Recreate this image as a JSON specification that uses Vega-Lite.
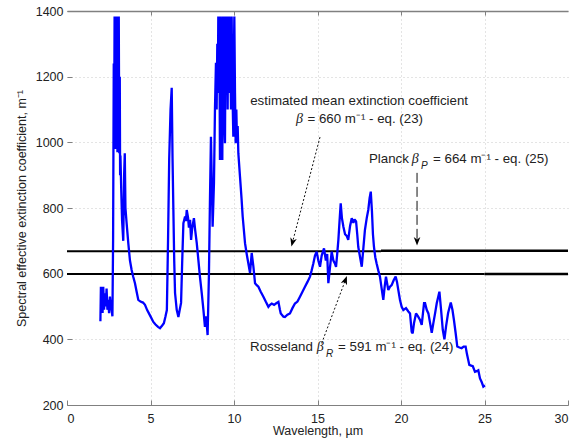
{
  "$schema": "https://vega.github.io/schema/vega-lite/v6.json",
  "autosize": "none",
  "width": 501,
  "height": 394,
  "padding": {"left": 67, "top": 11, "right": 10, "bottom": 38},
  "background": "white",
  "config": {
    "view": {"stroke": null},
    "font": "Liberation Sans",
    "axis": {"labelFont": "Liberation Sans", "titleFont": "Liberation Sans", "labelFontSize": 12.5, "titleFontSize": 12.5, "titleFontWeight": "normal", "labelColor": "#222", "titleColor": "#222", "domainColor": "#808080", "tickColor": "#808080", "gridColor": "#c8c8c8", "gridDash": [1, 3]}
  },
  "datasets": {
    "spectrum": [
      {"w": 2.0, "k": 455}, {"w": 2.03, "k": 560}, {"w": 2.07, "k": 500}, {"w": 2.1, "k": 545}, {"w": 2.13, "k": 480}, {"w": 2.17, "k": 560}, {"w": 2.22, "k": 490}, {"w": 2.27, "k": 540}, {"w": 2.32, "k": 500}, {"w": 2.37, "k": 555}, {"w": 2.42, "k": 490}, {"w": 2.47, "k": 520}, {"w": 2.52, "k": 480}, {"w": 2.57, "k": 530}, {"w": 2.62, "k": 500}, {"w": 2.67, "k": 490}, {"w": 2.72, "k": 470}, {"w": 2.76, "k": 700}, {"w": 2.8, "k": 1240}, {"w": 2.82, "k": 1000}, {"w": 2.85, "k": 1383}, {"w": 2.87, "k": 1050}, {"w": 2.9, "k": 1383}, {"w": 2.92, "k": 980}, {"w": 2.95, "k": 1383}, {"w": 2.97, "k": 1100}, {"w": 3.0, "k": 1383}, {"w": 3.02, "k": 970}, {"w": 3.05, "k": 1383}, {"w": 3.08, "k": 1000}, {"w": 3.1, "k": 1383}, {"w": 3.13, "k": 967}, {"w": 3.16, "k": 1200}, {"w": 3.18, "k": 900}, {"w": 3.2, "k": 960}, {"w": 3.25, "k": 850}, {"w": 3.3, "k": 760}, {"w": 3.37, "k": 700}, {"w": 3.42, "k": 900}, {"w": 3.46, "k": 967}, {"w": 3.5, "k": 800}, {"w": 3.57, "k": 754}, {"w": 3.67, "k": 693}, {"w": 3.77, "k": 640}, {"w": 3.87, "k": 611}, {"w": 3.97, "k": 590}, {"w": 4.07, "k": 571}, {"w": 4.17, "k": 545}, {"w": 4.27, "k": 520}, {"w": 4.4, "k": 515}, {"w": 4.55, "k": 512}, {"w": 4.67, "k": 505}, {"w": 4.8, "k": 489}, {"w": 5.0, "k": 470}, {"w": 5.17, "k": 453}, {"w": 5.3, "k": 445}, {"w": 5.45, "k": 438}, {"w": 5.57, "k": 434}, {"w": 5.7, "k": 442}, {"w": 5.8, "k": 449}, {"w": 5.9, "k": 470}, {"w": 5.98, "k": 489}, {"w": 6.05, "k": 700}, {"w": 6.12, "k": 950}, {"w": 6.2, "k": 1100}, {"w": 6.27, "k": 1166}, {"w": 6.32, "k": 950}, {"w": 6.37, "k": 794}, {"w": 6.42, "k": 640}, {"w": 6.47, "k": 541}, {"w": 6.57, "k": 490}, {"w": 6.67, "k": 468}, {"w": 6.75, "k": 490}, {"w": 6.83, "k": 511}, {"w": 6.9, "k": 640}, {"w": 6.97, "k": 754}, {"w": 7.07, "k": 774}, {"w": 7.12, "k": 760}, {"w": 7.17, "k": 794}, {"w": 7.25, "k": 770}, {"w": 7.3, "k": 740}, {"w": 7.37, "k": 764}, {"w": 7.43, "k": 703}, {"w": 7.5, "k": 740}, {"w": 7.6, "k": 769}, {"w": 7.68, "k": 730}, {"w": 7.77, "k": 693}, {"w": 7.87, "k": 640}, {"w": 7.96, "k": 591}, {"w": 8.07, "k": 540}, {"w": 8.17, "k": 489}, {"w": 8.26, "k": 438}, {"w": 8.33, "k": 470}, {"w": 8.42, "k": 413}, {"w": 8.5, "k": 600}, {"w": 8.56, "k": 824}, {"w": 8.62, "k": 1017}, {"w": 8.67, "k": 880}, {"w": 8.72, "k": 743}, {"w": 8.8, "k": 876}, {"w": 8.86, "k": 1100}, {"w": 8.92, "k": 1242}, {"w": 8.96, "k": 1100}, {"w": 9.0, "k": 1300}, {"w": 9.03, "k": 1150}, {"w": 9.06, "k": 1383}, {"w": 9.09, "k": 1150}, {"w": 9.12, "k": 1383}, {"w": 9.16, "k": 946}, {"w": 9.2, "k": 1383}, {"w": 9.23, "k": 1050}, {"w": 9.26, "k": 1300}, {"w": 9.3, "k": 946}, {"w": 9.34, "k": 1383}, {"w": 9.37, "k": 1100}, {"w": 9.4, "k": 1383}, {"w": 9.43, "k": 1050}, {"w": 9.46, "k": 997}, {"w": 9.49, "k": 1300}, {"w": 9.52, "k": 1383}, {"w": 9.55, "k": 1150}, {"w": 9.58, "k": 1383}, {"w": 9.62, "k": 1100}, {"w": 9.65, "k": 1383}, {"w": 9.68, "k": 1200}, {"w": 9.72, "k": 1383}, {"w": 9.75, "k": 1150}, {"w": 9.78, "k": 1300}, {"w": 9.82, "k": 1100}, {"w": 9.86, "k": 1383}, {"w": 9.89, "k": 1200}, {"w": 9.91, "k": 1150}, {"w": 9.96, "k": 1017}, {"w": 9.99, "k": 1250}, {"w": 10.02, "k": 1383}, {"w": 10.06, "k": 1150}, {"w": 10.1, "k": 997}, {"w": 10.14, "k": 1100}, {"w": 10.18, "k": 1000}, {"w": 10.22, "k": 1050}, {"w": 10.26, "k": 967}, {"w": 10.36, "k": 895}, {"w": 10.45, "k": 830}, {"w": 10.52, "k": 774}, {"w": 10.66, "k": 693}, {"w": 10.76, "k": 660}, {"w": 10.86, "k": 631}, {"w": 10.96, "k": 602}, {"w": 11.06, "k": 663}, {"w": 11.16, "k": 622}, {"w": 11.26, "k": 571}, {"w": 11.36, "k": 565}, {"w": 11.46, "k": 560}, {"w": 11.6, "k": 545}, {"w": 11.76, "k": 530}, {"w": 11.9, "k": 515}, {"w": 12.06, "k": 499}, {"w": 12.16, "k": 505}, {"w": 12.26, "k": 509}, {"w": 12.4, "k": 505}, {"w": 12.51, "k": 509}, {"w": 12.66, "k": 514}, {"w": 12.75, "k": 490}, {"w": 12.8, "k": 479}, {"w": 12.96, "k": 469}, {"w": 13.05, "k": 468}, {"w": 13.2, "k": 475}, {"w": 13.35, "k": 479}, {"w": 13.5, "k": 495}, {"w": 13.65, "k": 509}, {"w": 13.8, "k": 515}, {"w": 13.95, "k": 530}, {"w": 14.1, "k": 545}, {"w": 14.25, "k": 560}, {"w": 14.4, "k": 575}, {"w": 14.55, "k": 591}, {"w": 14.65, "k": 610}, {"w": 14.75, "k": 631}, {"w": 14.85, "k": 655}, {"w": 14.95, "k": 667}, {"w": 15.05, "k": 640}, {"w": 15.15, "k": 621}, {"w": 15.25, "k": 655}, {"w": 15.39, "k": 677}, {"w": 15.5, "k": 640}, {"w": 15.58, "k": 660}, {"w": 15.65, "k": 571}, {"w": 15.75, "k": 620}, {"w": 15.85, "k": 667}, {"w": 15.95, "k": 640}, {"w": 16.05, "k": 630}, {"w": 16.11, "k": 621}, {"w": 16.18, "k": 660}, {"w": 16.25, "k": 703}, {"w": 16.32, "k": 760}, {"w": 16.39, "k": 814}, {"w": 16.46, "k": 770}, {"w": 16.55, "k": 743}, {"w": 16.65, "k": 720}, {"w": 16.75, "k": 715}, {"w": 16.84, "k": 703}, {"w": 16.95, "k": 745}, {"w": 17.05, "k": 769}, {"w": 17.15, "k": 755}, {"w": 17.22, "k": 765}, {"w": 17.31, "k": 759}, {"w": 17.38, "k": 720}, {"w": 17.44, "k": 682}, {"w": 17.55, "k": 650}, {"w": 17.65, "k": 621}, {"w": 17.75, "k": 680}, {"w": 17.84, "k": 733}, {"w": 17.95, "k": 770}, {"w": 18.04, "k": 794}, {"w": 18.12, "k": 830}, {"w": 18.19, "k": 850}, {"w": 18.26, "k": 790}, {"w": 18.32, "k": 720}, {"w": 18.38, "k": 682}, {"w": 18.46, "k": 650}, {"w": 18.54, "k": 631}, {"w": 18.64, "k": 610}, {"w": 18.74, "k": 591}, {"w": 18.84, "k": 555}, {"w": 18.94, "k": 520}, {"w": 19.02, "k": 560}, {"w": 19.1, "k": 591}, {"w": 19.24, "k": 550}, {"w": 19.34, "k": 560}, {"w": 19.44, "k": 565}, {"w": 19.56, "k": 580}, {"w": 19.68, "k": 591}, {"w": 19.76, "k": 575}, {"w": 19.84, "k": 550}, {"w": 19.94, "k": 520}, {"w": 20.04, "k": 499}, {"w": 20.14, "k": 489}, {"w": 20.3, "k": 495}, {"w": 20.44, "k": 485}, {"w": 20.54, "k": 479}, {"w": 20.64, "k": 423}, {"w": 20.7, "k": 418}, {"w": 20.78, "k": 450}, {"w": 20.9, "k": 479}, {"w": 21.02, "k": 470}, {"w": 21.14, "k": 459}, {"w": 21.24, "k": 444}, {"w": 21.38, "k": 510}, {"w": 21.44, "k": 510}, {"w": 21.54, "k": 490}, {"w": 21.64, "k": 479}, {"w": 21.74, "k": 450}, {"w": 21.84, "k": 420}, {"w": 21.94, "k": 450}, {"w": 22.04, "k": 479}, {"w": 22.14, "k": 510}, {"w": 22.3, "k": 545}, {"w": 22.4, "k": 490}, {"w": 22.5, "k": 430}, {"w": 22.6, "k": 400}, {"w": 22.7, "k": 440}, {"w": 22.82, "k": 480}, {"w": 22.98, "k": 512}, {"w": 23.08, "k": 490}, {"w": 23.17, "k": 459}, {"w": 23.27, "k": 420}, {"w": 23.37, "k": 378}, {"w": 23.5, "k": 375}, {"w": 23.63, "k": 373}, {"w": 23.75, "k": 378}, {"w": 23.87, "k": 378}, {"w": 23.95, "k": 355}, {"w": 24.09, "k": 322}, {"w": 24.2, "k": 320}, {"w": 24.3, "k": 318}, {"w": 24.43, "k": 301}, {"w": 24.53, "k": 303}, {"w": 24.63, "k": 306}, {"w": 24.73, "k": 281}, {"w": 24.83, "k": 270}, {"w": 24.93, "k": 256}, {"w": 25.03, "k": 260}
    ]
  },
  "resolve": {"axis": {"x": "independent", "y": "independent"}},
  "layer": [
    {
      "data": {"values": [{}]},
      "mark": {"type": "rule", "opacity": 0},
      "encoding": {
        "x": {"datum": 0, "type": "quantitative", "scale": {"domain": [0, 30], "nice": false, "zero": false},
          "axis": {"orient": "bottom", "values": [0, 5, 10, 15, 20, 25, 30], "grid": false, "domain": true, "domainWidth": 1.2, "tickSize": -5, "labelPadding": 12, "title": "Wavelength, µm", "titlePadding": 0, "labelAngle": 0}},
        "y": {"datum": 200, "type": "quantitative", "scale": {"domain": [200, 1400], "nice": false, "zero": false},
          "axis": {"orient": "left", "values": [200, 400, 600, 800, 1000, 1200, 1400], "format": "d", "grid": true, "domain": false, "tickSize": -5, "labelPadding": 9, "title": "Spectral effective extinction coefficient, m⁻¹", "titlePadding": 7}}
      }
    },
    {
      "data": {"values": [{}]},
      "mark": {"type": "rule", "opacity": 0},
      "encoding": {
        "x": {"datum": 0, "type": "quantitative",
          "axis": {"orient": "top", "values": [5, 10, 15, 20, 25], "grid": true, "labels": false, "domain": true, "domainColor": "#808080", "domainWidth": 1.5, "ticks": true, "tickSize": -4, "title": null}}
      }
    },
    {
      "data": {"values": [
        {"a": 0, "b": 18.8, "v": 668},
        {"a": 0, "b": 25, "v": 599}
      ]},
      "mark": {"type": "rule", "color": "black", "strokeWidth": 2},
      "encoding": {"x": {"field": "a", "type": "quantitative", "axis": null}, "x2": {"field": "b"}, "y": {"field": "v", "type": "quantitative", "axis": null}}
    },
    {
      "data": {"values": [
        {"a": 18.8, "b": 30, "v": 670},
        {"a": 25, "b": 30, "v": 599}
      ]},
      "mark": {"type": "rule", "color": "black", "strokeWidth": 2.6},
      "encoding": {"x": {"field": "a", "type": "quantitative", "axis": null}, "x2": {"field": "b"}, "y": {"field": "v", "type": "quantitative", "axis": null}}
    },
    {
      "data": {"name": "spectrum"},
      "mark": {"type": "line", "color": "#0000ff", "strokeWidth": 2.3, "strokeJoin": "miter", "strokeMiterLimit": 2},
      "encoding": {"x": {"field": "w", "type": "quantitative", "axis": null}, "y": {"field": "k", "type": "quantitative", "axis": null}}
    },
    {
      "data": {"values": [{}]},
      "mark": {"type": "rule", "color": "#111", "strokeWidth": 1, "strokeDash": [2, 2]},
      "encoding": {"x": {"datum": 15.15, "type": "quantitative", "axis": null}, "y": {"datum": 1016, "type": "quantitative", "axis": null}, "x2": {"datum": 13.51}, "y2": {"datum": 697}}
    },
    {
      "data": {"values": [{}]},
      "mark": {"type": "rule", "color": "#111", "strokeWidth": 1, "strokeDash": [10, 4]},
      "encoding": {"x": {"datum": 20.96, "type": "quantitative", "axis": null}, "y": {"datum": 907, "type": "quantitative", "axis": null}, "y2": {"datum": 700}}
    },
    {
      "data": {"values": [{}]},
      "mark": {"type": "rule", "color": "#111", "strokeWidth": 1, "strokeDash": [2, 2]},
      "encoding": {"x": {"datum": 15.25, "type": "quantitative", "axis": null}, "y": {"datum": 388, "type": "quantitative", "axis": null}, "x2": {"datum": 16.66}, "y2": {"datum": 579}}
    },
    {
      "data": {"values": [{}]},
      "mark": {"type": "point", "shape": "M0,-1L0.7,0.8L0,0.3L-0.7,0.8Z", "filled": true, "color": "black", "size": 90, "angle": 194.5, "opacity": 1},
      "encoding": {"x": {"datum": 13.51, "type": "quantitative", "axis": null}, "y": {"datum": 697, "type": "quantitative", "axis": null}}
    },
    {
      "data": {"values": [{}]},
      "mark": {"type": "point", "shape": "M0,-1L0.7,0.8L0,0.3L-0.7,0.8Z", "filled": true, "color": "black", "size": 90, "angle": 180, "opacity": 1},
      "encoding": {"x": {"datum": 20.96, "type": "quantitative", "axis": null}, "y": {"datum": 700, "type": "quantitative", "axis": null}}
    },
    {
      "data": {"values": [{}]},
      "mark": {"type": "point", "shape": "M0,-1L0.7,0.8L0,0.3L-0.7,0.8Z", "filled": true, "color": "black", "size": 90, "angle": 20.7, "opacity": 1},
      "encoding": {"x": {"datum": 16.66, "type": "quantitative", "axis": null}, "y": {"datum": 579, "type": "quantitative", "axis": null}}
    },
    {
      "data": {"values": [
        {"t": "estimated mean extinction coefficient", "x": 17.49, "y": 1127}
      ]},
      "mark": {"type": "text", "font": "Liberation Sans", "fontSize": 13.3, "color": "#222", "align": "center", "baseline": "middle"},
      "encoding": {"x": {"field": "x", "type": "quantitative", "axis": null}, "y": {"field": "y", "type": "quantitative", "axis": null}, "text": {"field": "t"}}
    },
    {
      "data": {"values": [
        {"t": "= 660 m⁻¹ - eq. (23)", "x": 14.4, "y": 1070},
        {"t": "Planck", "x": 18.08, "y": 949},
        {"t": "= 664 m⁻¹ - eq. (25)", "x": 21.92, "y": 949},
        {"t": "Rosseland", "x": 10.96, "y": 378},
        {"t": "= 591 m⁻¹ - eq. (24)", "x": 16.23, "y": 378}
      ]},
      "mark": {"type": "text", "font": "Liberation Sans", "fontSize": 13.3, "color": "#222", "align": "left", "baseline": "middle"},
      "encoding": {"x": {"field": "x", "type": "quantitative", "axis": null}, "y": {"field": "y", "type": "quantitative", "axis": null}, "text": {"field": "t"}}
    },
    {
      "data": {"values": [
        {"t": "β", "x": 13.71, "y": 1070},
        {"t": "β", "x": 20.65, "y": 949},
        {"t": "β", "x": 14.95, "y": 378}
      ]},
      "mark": {"type": "text", "font": "Liberation Serif", "fontSize": 14, "fontStyle": "italic", "color": "#222", "align": "left", "baseline": "middle"},
      "encoding": {"x": {"field": "x", "type": "quantitative", "axis": null}, "y": {"field": "y", "type": "quantitative", "axis": null}, "text": {"field": "t"}}
    },
    {
      "data": {"values": [
        {"t": "P", "x": 21.2, "y": 949},
        {"t": "R", "x": 15.51, "y": 378}
      ]},
      "mark": {"type": "text", "font": "Liberation Sans", "fontSize": 10, "fontStyle": "italic", "color": "#222", "align": "left", "baseline": "middle", "dy": 7},
      "encoding": {"x": {"field": "x", "type": "quantitative", "axis": null}, "y": {"field": "y", "type": "quantitative", "axis": null}, "text": {"field": "t"}}
    }
  ]
}
